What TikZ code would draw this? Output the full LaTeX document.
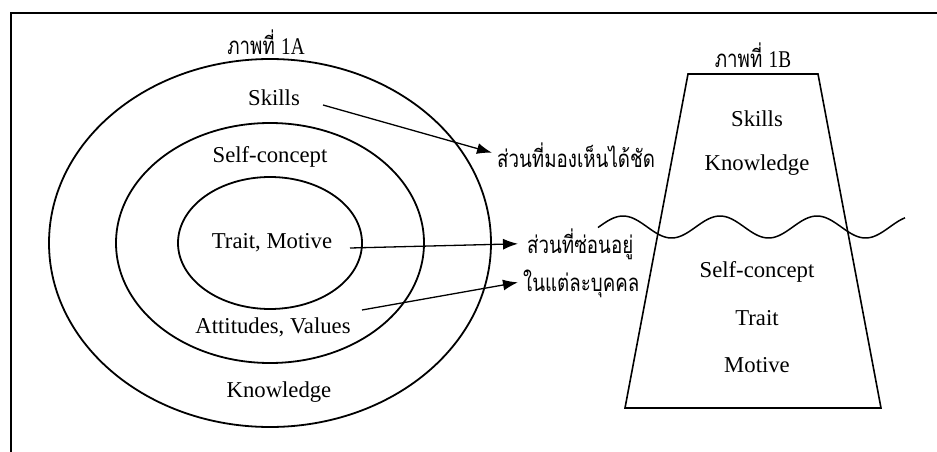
\documentclass[tikz,border=0pt]{standalone}
\usepackage{fontspec}
\setmainfont{Liberation Serif}
\newfontfamily\thaifont[Script=Thai, FakeStretch=0.78]{Loma}
\newfontfamily\narrowserif[FakeStretch=0.8]{Liberation Serif}
\usetikzlibrary{arrows.meta}
\begin{document}
\begin{tikzpicture}[x=1pt,y=-1pt,
  lbl/.style={font=\fontsize{22.7}{26}\selectfont, inner sep=0pt},
  thai/.style={font=\thaifont\fontsize{24}{28}\selectfont, inner sep=0pt},
  ring/.style={line width=1.8pt},
  shape line/.style={line width=1.6pt},
  pointer/.style={line width=1.3pt, -{Latex[length=15pt,width=11pt]}},
  ]
\useasboundingbox (0,0) rectangle (937,452);

% frame (top and left edges)
\draw[line width=2.4pt] (937,13) -- (11,13) -- (11,452);

% ---- figure 1A: concentric ellipses ----
\coordinate (ctr) at (270,243);
\draw[ring] (ctr) ellipse [x radius=221pt, y radius=184pt];
\draw[ring] (ctr) ellipse [x radius=154pt, y radius=120pt];
\draw[ring] (ctr) ellipse [x radius=92pt,  y radius=66pt];

\node[thai, anchor=base] (titleA) at (266,55) {ภาพที่ {\narrowserif 1A}};
\node[lbl] (skA)   at (274,98)  {Skills};
\node[lbl] (scA)   at (270,157) {Self-concept};
\node[lbl] (tmA)   at (272,243) {Trait, Motive};
\node[lbl] (avA)   at (273,327) {Attitudes, Values};
\node[lbl] (knA)   at (279,392) {Knowledge};

% ---- labels in the middle ----
\node[thai, anchor=base west] (visible) at (497,167) {ส่วนที่มองเห็นได้ชัด};
\node[thai, anchor=base west] (hidden)  at (527,253) {ส่วนที่ซ่อนอยู่};
\node[thai, anchor=base west] (person)  at (523,291) {ในแต่ละบุคคล};

\coordinate (skStart) at (323,105);
\coordinate (tmStart) at (350,248);
\coordinate (avStart) at (362,310);
\draw[pointer] (skStart) -- ([xshift=-5pt,yshift=2pt]visible.west);
\draw[pointer] (tmStart) -- ([xshift=-9pt]hidden.west);
\draw[pointer] (avStart) -- ([xshift=-5pt,yshift=1pt]person.west);

% ---- figure 1B: trapezoid with water line ----
\node[thai, anchor=base] (titleB) at (753,67) {ภาพที่ {\narrowserif 1B}};
\draw[shape line] (688,74) -- (818,74) -- (881,408) -- (625,408) -- cycle;
\draw[line width=1.5pt] plot[domain=598:905, samples=150]
  (\x, {227 - 11*cos((\x-623)/97*360)});

\node[lbl] (skB) at (757,119) {Skills};
\node[lbl] (knB) at (757,165) {Knowledge};
\node[lbl] (scB) at (757,272) {Self-concept};
\node[lbl] (trB) at (757,318) {Trait};
\node[lbl] (moB) at (757,365) {Motive};
\end{tikzpicture}
\end{document}
